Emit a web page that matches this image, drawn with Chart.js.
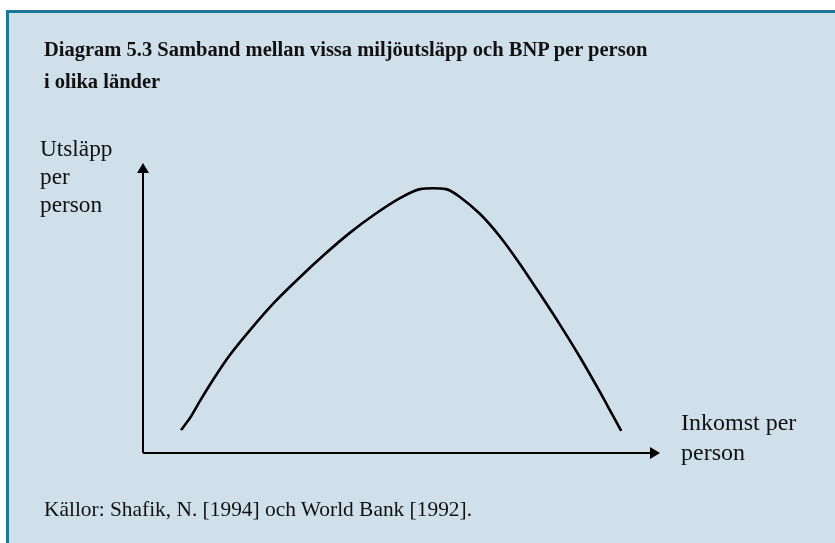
<!DOCTYPE html>
<html>
<head>
<meta charset="utf-8">
<script src="https://cdn.jsdelivr.net/npm/chart.js@4/dist/chart.umd.min.js"></script>
<style>
  html, body { margin: 0; padding: 0; background: #ffffff; }
  body { width: 835px; height: 543px; position: relative; overflow: hidden; font-family: "Liberation Serif", "DejaVu Serif", serif; color: #111; }
  #panel { position: absolute; left: 6px; top: 10px; right: 0; bottom: 0; background: #cfe0eb; border-top: 3px solid #1b7898; border-left: 3px solid #1b7898; }
  #chart { position: absolute; left: 0; top: 0; }
  .t { position: absolute; white-space: nowrap; }
  #title { left: 44px; top: 33px; font-size: 20.5px; font-weight: bold; line-height: 32px; }
  #ylab { left: 40px; top: 134px; font-size: 23.3px; line-height: 28px; }
  #xlab { left: 681px; top: 407px; font-size: 24px; line-height: 30px; }
  #src { left: 44px; top: 497px; font-size: 21.4px; }
</style>
</head>
<body>
<div id="panel"></div>
<canvas id="chart" width="835" height="543"></canvas>
<div class="t" id="title">Diagram 5.3 Samband mellan vissa miljöutsläpp och BNP per person<br>i olika länder</div>
<div class="t" id="ylab">Utsläpp<br>per<br>person</div>
<div class="t" id="xlab">Inkomst per<br>person</div>
<div class="t" id="src">Källor: Shafik, N. [1994] och World Bank [1992].</div>
<script>
// Income per person (arbitrary units along the x axis, 0-100)
const income = [7.35, 9.1, 11.0, 13.9, 16.8, 20.7, 25.5, 30.4, 35.2, 40.0, 44.9, 49.7, 53.6, 58.6, 61.3, 65.2, 69.1, 72.9, 76.8, 80.7, 84.5, 88.4, 90.7, 92.5];
// Emissions per person (arbitrary units along the y axis, 0-100)
const emissions = [7.9, 12.1, 17.9, 26.2, 33.8, 42.4, 52.1, 60.7, 68.6, 75.9, 82.4, 87.9, 91.0, 91.0, 88.3, 82.4, 74.5, 65.2, 54.8, 44.1, 33.1, 21.0, 13.5, 7.6];
const axisMax = 100;

const points = income.map((x, i) => ({ x: x, y: emissions[i] }));

const arrowAxes = {
  id: 'arrowAxes',
  beforeDatasetsDraw(chart) {
    const ctx = chart.ctx;
    const xs = chart.scales.x, ys = chart.scales.y;
    const x0 = xs.getPixelForValue(0), y0 = ys.getPixelForValue(0);
    const x1 = xs.getPixelForValue(axisMax), y1 = ys.getPixelForValue(axisMax);
    ctx.save();
    ctx.strokeStyle = '#000';
    ctx.fillStyle = '#000';
    ctx.lineWidth = 2;
    ctx.beginPath();
    ctx.moveTo(x0, y0);
    ctx.lineTo(x0, y1 + 8);
    ctx.moveTo(x0, y0);
    ctx.lineTo(x1 - 8, y0);
    ctx.stroke();
    ctx.beginPath();
    ctx.moveTo(x0, y1);
    ctx.lineTo(x0 - 6, y1 + 10);
    ctx.lineTo(x0 + 6, y1 + 10);
    ctx.closePath();
    ctx.fill();
    ctx.beginPath();
    ctx.moveTo(x1, y0);
    ctx.lineTo(x1 - 10, y0 - 6);
    ctx.lineTo(x1 - 10, y0 + 6);
    ctx.closePath();
    ctx.fill();
    ctx.restore();
  }
};

new Chart(document.getElementById('chart'), {
  type: 'line',
  data: {
    datasets: [{
      data: points,
      borderColor: '#000',
      borderWidth: 2.6,
      pointRadius: 0,
      tension: 0.25,
      fill: false
    }]
  },
  options: {
    responsive: false,
    animation: false,
    events: [],
    layout: { padding: { left: 143, right: 175, top: 163, bottom: 90 } },
    plugins: { legend: { display: false }, tooltip: { enabled: false }, title: { display: false } },
    scales: {
      x: { type: 'linear', min: 0, max: axisMax, display: false },
      y: { type: 'linear', min: 0, max: axisMax, display: false }
    }
  },
  plugins: [arrowAxes]
});
</script>
</body>
</html>
